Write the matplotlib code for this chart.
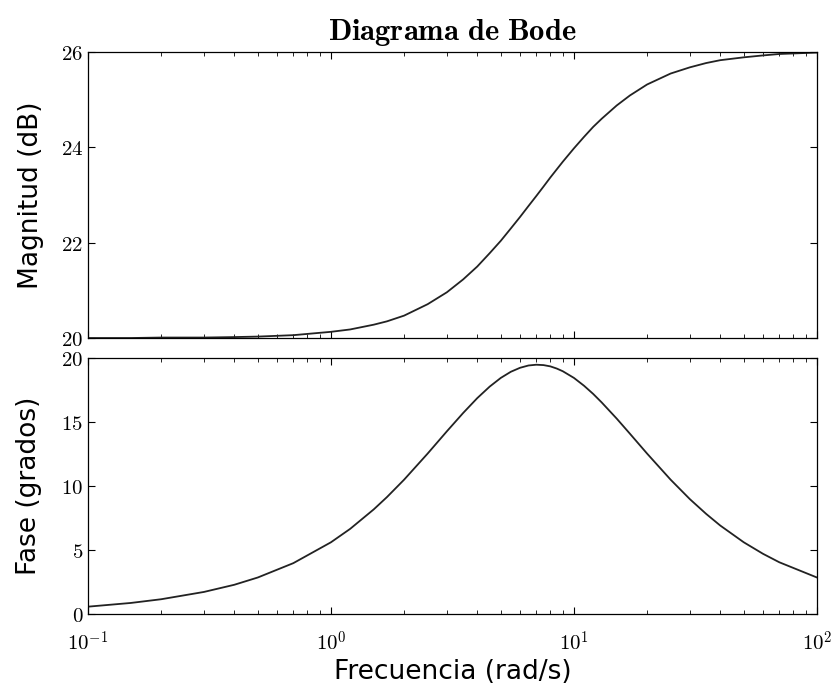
import numpy as np
import matplotlib
matplotlib.use('Agg')
import matplotlib.pyplot as plt
import matplotlib as mpl

# values
freq = [0.1, 0.15, 0.2, 0.3, 0.4, 0.5, 0.7, 1.0, 1.2, 1.5, 1.7, 2.0, 2.5, 3.0, 3.5,
        4.0, 4.5, 5.0, 5.5, 6.0, 6.5, 7.0, 7.5, 8.0, 8.5, 9.0, 10.0, 11.0, 12.0, 13.0,
        15.0, 17.0, 20.0, 25.0, 30.0, 35.0, 40.0, 50.0, 60.0, 70.0, 100.0]
mag_db = [20.00, 20.00, 20.01, 20.01, 20.02, 20.03, 20.06, 20.13, 20.18, 20.28, 20.35,
          20.47, 20.71, 20.96, 21.23, 21.50, 21.78, 22.04, 22.30, 22.54, 22.77, 22.98,
          23.18, 23.37, 23.54, 23.70, 23.98, 24.22, 24.43, 24.60, 24.88, 25.09, 25.32,
          25.55, 25.68, 25.77, 25.83, 25.89, 25.93, 25.96, 25.99]
phase_deg = [0.57, 0.86, 1.15, 1.72, 2.28, 2.85, 3.97, 5.60, 6.65, 8.17, 9.13, 10.49,
             12.53, 14.27, 15.70, 16.86, 17.76, 18.44, 18.92, 19.23, 19.41, 19.47, 19.44,
             19.34, 19.17, 18.96, 18.44, 17.83, 17.19, 16.53, 15.26, 14.08, 12.53, 10.49,
             8.97, 7.82, 6.91, 5.60, 4.70, 4.04, 2.85]

mag_ticks = [20, 22, 24, 26]
phase_ticks = [0, 5, 10, 15, 20]
freq_ticks = [0.1, 1, 10, 100]
freq_labels = ['$10^{-1}$', '$10^{0}$', '$10^{1}$', '$10^{2}$']

mpl.rcParams['mathtext.fontset'] = 'cm'
mpl.rcParams['font.family'] = 'DejaVu Sans'

fig = plt.figure(figsize=(8.34, 6.89), dpi=100)
ax1 = fig.add_axes([0.1055, 0.5094, 0.874, 0.415])
ax2 = fig.add_axes([0.1055, 0.1089, 0.874, 0.3716])

ax1.semilogx(freq, mag_db, color='#222222', lw=1.3)
ax2.semilogx(freq, phase_deg, color='#222222', lw=1.3)

for ax in (ax1, ax2):
    ax.set_xlim(0.1, 100)
    ax.set_xticks(freq_ticks)
    ax.tick_params(which='both', direction='in', top=True, right=True, labelsize=15)
    ax.tick_params(which='major', length=5, width=0.8)
    ax.tick_params(which='minor', length=3, width=0.6)
    for s in ax.spines.values():
        s.set_linewidth(0.9)

ax1.set_ylim(20, 26)
ax1.set_yticks(mag_ticks)
ax1.set_yticklabels(['$%d$' % t for t in mag_ticks])
ax1.tick_params(axis='x', labelbottom=False)
ax1.set_ylabel('Magnitud (dB)', fontsize=19, labelpad=12)
ax1.set_title(r'$\mathbf{Diagrama\ de\ Bode}$', fontsize=22, pad=9)

ax2.set_ylim(0, 20)
ax2.set_yticks(phase_ticks)
ax2.set_yticklabels(['$%d$' % t for t in phase_ticks])
ax2.set_xticklabels(freq_labels)
ax2.set_ylabel('Fase (grados)', fontsize=19, labelpad=14)
ax2.set_xlabel('Frecuencia (rad/s)', fontsize=19, labelpad=3)
ax2.tick_params(axis='x', pad=12)

fig.savefig('out.png', dpi=100)
